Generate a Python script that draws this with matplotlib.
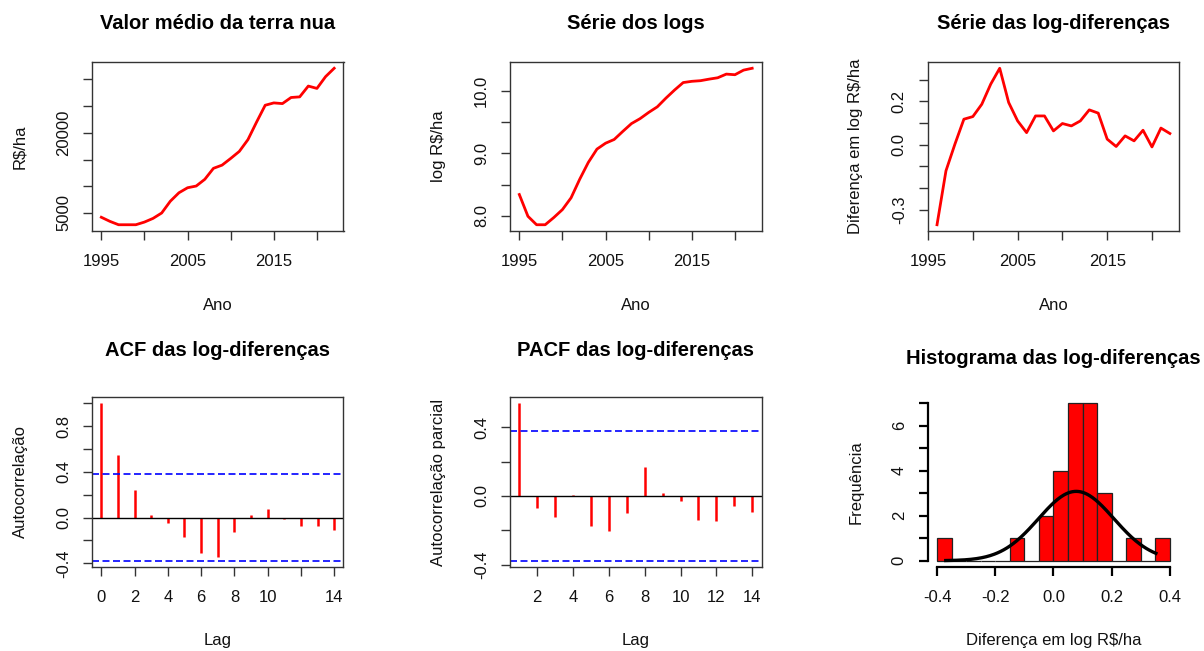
import numpy as np
import matplotlib
matplotlib.use('Agg')
import matplotlib.pyplot as plt

plt.rcParams['font.family'] = ['Liberation Sans', 'DejaVu Sans']

# ---------------- data ----------------
anos = [1995, 1996, 1997, 1998, 1999, 2000, 2001, 2002, 2003, 2004,
        2005, 2006, 2007, 2008, 2009, 2010, 2011, 2012, 2013, 2014,
        2015, 2016, 2017, 2018, 2019, 2020, 2021, 2022]
valor = [4200, 3430, 2800, 2800, 2800, 3300, 3990, 5000, 7200, 8780,
         9720, 10040, 11300, 13350, 13950, 15200, 16520, 18720, 22000, 25150,
         25590, 25460, 26600, 26720, 28740, 28300, 30500, 32070]
log_valor = [8.34, 7.99, 7.854, 7.854, 7.97, 8.098, 8.287, 8.585, 8.856, 9.07,
             9.165, 9.225, 9.355, 9.48, 9.56, 9.66, 9.75, 9.89, 10.02, 10.14,
             10.16, 10.17, 10.195, 10.217, 10.276, 10.266, 10.34, 10.37]
anos_dif = anos[1:]
log_dif = [-0.370, -0.121, 0.002, 0.117, 0.129, 0.186, 0.279, 0.352, 0.194,
           0.109, 0.055, 0.132, 0.132, 0.063, 0.097, 0.086, 0.109, 0.160,
           0.145, 0.025, -0.009, 0.040, 0.017, 0.066, -0.011, 0.076, 0.051]
lags_acf = [0, 1, 2, 3, 4, 5, 6, 7, 8, 9, 10, 11, 12, 13, 14]
acf_vals = [1.0, 0.545, 0.242, 0.02, -0.05, -0.17, -0.306, -0.341, -0.125,
            0.02, 0.073, -0.015, -0.073, -0.073, -0.105]
lags_pacf = [1, 2, 3, 4, 5, 6, 7, 8, 9, 10, 11, 12, 13, 14]
pacf_vals = [0.54, -0.072, -0.124, 0.008, -0.175, -0.204, -0.10, 0.171,
             0.016, -0.027, -0.14, -0.148, -0.056, -0.095]
quebras = [-0.40, -0.35, -0.30, -0.25, -0.20, -0.15, -0.10, -0.05, 0.0,
           0.05, 0.10, 0.15, 0.20, 0.25, 0.30, 0.35, 0.40]

# tick positions / labels (R drops overlapping labels)
anos_ticks = [1995, 2000, 2005, 2010, 2015, 2020]
anos_lab = ['1995', '', '2005', '', '2015', '']
v_ticks = [5000, 10000, 15000, 20000, 25000, 30000]
v_lab = ['5000', '', '', '20000', '', '']
l_ticks = [8.0, 8.5, 9.0, 9.5, 10.0]
l_lab = ['8.0', '', '9.0', '', '10.0']
d_ticks = [-0.3, -0.2, -0.1, 0.0, 0.1, 0.2, 0.3]
d_lab = ['-0.3', '', '', '0.0', '', '0.2', '']
acf_yt = [-0.4, -0.2, 0.0, 0.2, 0.4, 0.6, 0.8, 1.0]
acf_yl = ['-0.4', '', '0.0', '', '0.4', '', '0.8', '']
acf_xt = [0, 2, 4, 6, 8, 10, 12, 14]
acf_xl = ['0', '2', '4', '6', '8', '10', '', '14']
pacf_yt = [-0.4, -0.2, 0.0, 0.2, 0.4]
pacf_yl = ['-0.4', '', '0.0', '', '0.4']
pacf_xt = [2, 4, 6, 8, 10, 12, 14]
h_yt = [0, 1, 2, 3, 4, 5, 6, 7]
h_yl = ['0', '', '2', '', '4', '', '6', '']
h_xt = [-0.4, -0.2, 0.0, 0.2, 0.4]
h_xl = ['-0.4', '-0.2', '0.0', '0.2', '0.4']

# ---------------- figure ----------------
W, H = 1204, 651
fig = plt.figure(figsize=(W / 100, H / 100), dpi=100)
fig.patch.set_facecolor('white')

BOXC = '#333333'
RED = '#FF0000'


def add_ax(left, top, width, height):
    return fig.add_axes([left / W, 1 - (top + height) / H, width / W, height / H])


def rlim(vals, frac=0.04):
    lo, hi = min(vals), max(vals)
    d = (hi - lo) * frac
    return lo - d, hi + d


def style(ax, title, xlabel, ylabel, w, h, title_pad, lw=1.0, color=BOXC):
    for s in ax.spines.values():
        s.set_color(color)
        s.set_linewidth(lw)
    ax.tick_params(axis='both', direction='out', length=6.5, width=lw, color=color,
                   labelsize=12, labelcolor='#111111')
    ax.tick_params(axis='x', pad=10)
    ax.tick_params(axis='y', pad=8.5)
    ax.set_title(title, fontsize=14.5, fontweight='bold', pad=title_pad)
    ax.set_xlabel(xlabel, fontsize=12, va='center', color='#111111')
    ax.xaxis.set_label_coords(0.5, -74 / h)
    ax.set_ylabel(ylabel, fontsize=12, va='center', color='#111111')
    ax.yaxis.set_label_coords(-72 / w, 0.5)


cols = [92, 510, 927.7]
aw = 251.5
r1_top, r1_h = 62, 169
r2_top, r2_h = 397, 170

# 1. Valor medio
ax1 = add_ax(cols[0], r1_top, aw, r1_h)
ax1.plot(anos, valor, color=RED, lw=2)
ax1.set_xlim(*rlim(anos))
ax1.set_ylim(*rlim(valor))
ax1.set_xticks(anos_ticks, anos_lab)
ax1.set_yticks(v_ticks, v_lab, rotation=90, va='center')
style(ax1, 'Valor médio da terra nua', 'Ano', 'R$/ha', aw, r1_h, 23.5)

# 2. Serie dos logs
ax2 = add_ax(cols[1], r1_top, aw, r1_h)
ax2.plot(anos, log_valor, color=RED, lw=2)
ax2.set_xlim(*rlim(anos))
ax2.set_ylim(*rlim(log_valor))
ax2.set_xticks(anos_ticks, anos_lab)
ax2.set_yticks(l_ticks, l_lab, rotation=90, va='center')
style(ax2, 'Série dos logs', 'Ano', 'log R$/ha', aw, r1_h, 23.5)

# 3. Serie das log-diferencas
ax3 = add_ax(cols[2], r1_top, aw, r1_h)
ax3.plot(anos_dif, log_dif, color=RED, lw=2)
ax3.set_xlim(*rlim(anos_dif))
ax3.set_ylim(*rlim(log_dif))
ax3.set_xticks(anos_ticks, anos_lab)
ax3.set_yticks(d_ticks, d_lab, rotation=90, va='center')
style(ax3, 'Série das log-diferenças', 'Ano', 'Diferença em log R$/ha', aw, r1_h, 23.5)

ci = 1.96 / np.sqrt(len(log_dif))

# 4. ACF
ax4 = add_ax(cols[0], r2_top, aw, r2_h)
ax4.vlines(lags_acf, 0, acf_vals, color=RED, lw=1.8)
ax4.axhline(0, color='black', lw=1)
for c in (ci, -ci):
    ax4.axhline(c, color='#0000FF', lw=1.2, linestyle=(0, (4.2, 2.1)))
ax4.set_xlim(*rlim(lags_acf))
ax4.set_ylim(*rlim(acf_vals + [-ci, ci]))
ax4.set_xticks(acf_xt, acf_xl)
ax4.set_yticks(acf_yt, acf_yl, rotation=90, va='center')
style(ax4, 'ACF das log-diferenças', 'Lag', 'Autocorrelação', aw, r2_h, 29.5)

# 5. PACF
ax5 = add_ax(cols[1], r2_top, aw, r2_h)
ax5.vlines(lags_pacf, 0, pacf_vals, color=RED, lw=1.8)
ax5.axhline(0, color='black', lw=1)
for c in (ci, -ci):
    ax5.axhline(c, color='#0000FF', lw=1.2, linestyle=(0, (4.2, 2.1)))
ax5.set_xlim(*rlim(lags_pacf))
ax5.set_ylim(*rlim(pacf_vals + [-ci, ci]))
ax5.set_xticks(pacf_xt, [str(t) for t in pacf_xt])
ax5.set_yticks(pacf_yt, pacf_yl, rotation=90, va='center')
style(ax5, 'PACF das log-diferenças', 'Lag', 'Autocorrelação parcial', aw, r2_h, 29.5)

# 6. Histograma
ax6 = add_ax(cols[2], r2_top, aw, r2_h)
counts, _, _ = ax6.hist(log_dif, bins=quebras, color=RED, edgecolor='#222222', linewidth=0.9)
dd = np.asarray(log_dif)
mu, sd = dd.mean(), dd.std(ddof=1)
xs = np.linspace(dd.min(), dd.max(), 200)
ax6.plot(xs, np.exp(-0.5 * ((xs - mu) / sd) ** 2) / (sd * np.sqrt(2 * np.pi)),
         color='black', lw=2.4)
ax6.set_xlim(*rlim(quebras))
ax6.set_ylim(*rlim([0, counts.max()]))
ax6.set_xticks(h_xt, h_xl)
ax6.set_yticks(h_yt, h_yl, rotation=90, va='center')
style(ax6, 'Histograma das log-diferenças', 'Diferença em log R$/ha', 'Frequência',
      aw, r2_h, 24, lw=1.6, color='black')
ax6.spines['top'].set_visible(False)
ax6.spines['right'].set_visible(False)
ax6.spines['left'].set_bounds(0, counts.max())
ax6.spines['bottom'].set_bounds(quebras[0], quebras[-1])

fig.savefig('out.png', dpi=100, facecolor='white')
